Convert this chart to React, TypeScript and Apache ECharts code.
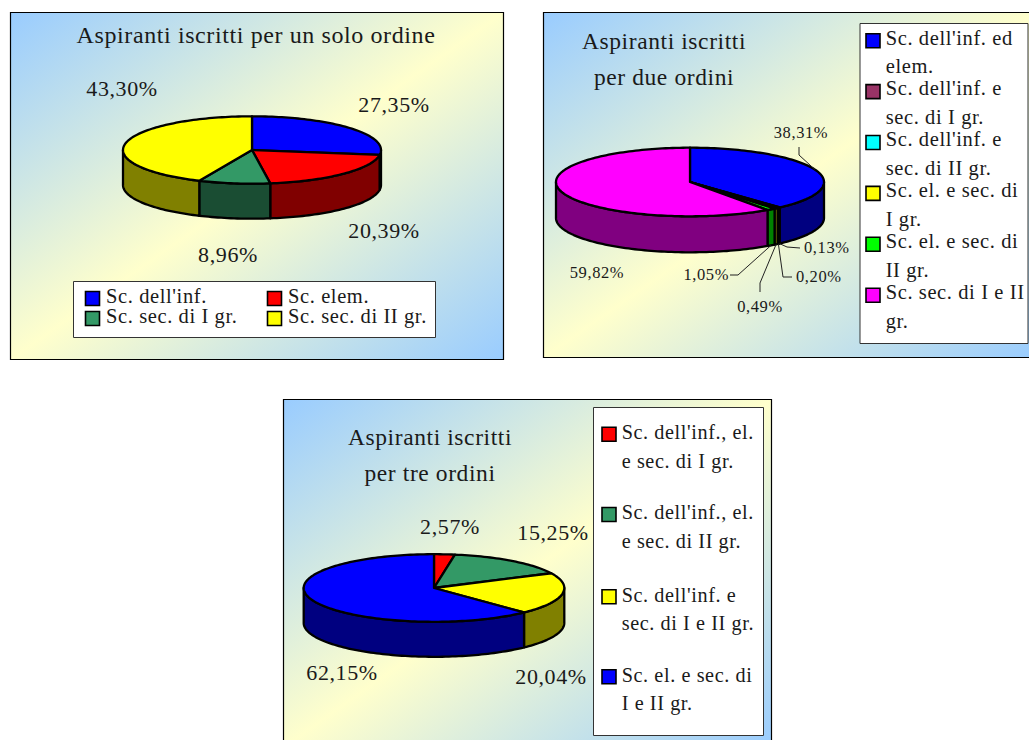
import React, { useEffect, useRef } from "react";
import * as echarts from "echarts";

// Percentages per teaching-order group, clockwise from twelve o'clock
const soloNames = ["Sc. dell'inf.", "Sc. elem.", "Sc. sec. di I gr.", "Sc. sec. di II gr."];
const soloValues = [27.35, 20.39, 8.96, 43.3];

const dueNames = [
  "Sc. dell'inf. ed\nelem.",
  "Sc. dell'inf. e\nsec. di I gr.",
  "Sc. dell'inf. e\nsec. di II gr.",
  "Sc. el. e sec. di\nI gr.",
  "Sc. el. e sec. di\nII gr.",
  "Sc. sec. di I e II\ngr.",
];
const dueValues = [38.31, 0.13, 0.2, 0.49, 1.05, 59.82];

const treNames = [
  "Sc. dell'inf., el.\ne sec. di I gr.",
  "Sc. dell'inf., el.\ne sec. di II gr.",
  "Sc. dell'inf. e\nsec. di I e II gr.",
  "Sc. el. e sec. di\nI e II gr.",
];
const treValues = [2.57, 15.25, 20.04, 62.15];

const FONT = "'Liberation Serif', serif";
const INK = "#1a1a1a";

const BLUE = ["#0000ff", "#000080"];
const RED = ["#ff0000", "#800000"];
const SEA = ["#339966", "#1a4d33"];
const YELLOW = ["#ffff00", "#808000"];
const PLUM = ["#993366", "#4d1a33"];
const CYAN = ["#00ffff", "#008080"];
const LIME = ["#00ff00", "#008000"];
const MAGENTA = ["#ff00ff", "#800080"];

const soloColors = [BLUE, RED, SEA, YELLOW];
const dueColors = [BLUE, PLUM, CYAN, YELLOW, LIME, MAGENTA];
const treColors = [RED, SEA, YELLOW, BLUE];

type Label = { x: number; y: number; align: string; size: number };
type Leader = { rim: "top" | "bottom"; path: number[][] };
type Pie = {
  name: string;
  values: number[];
  colors: string[][];
  cx: number;
  cy: number;
  rx: number;
  ry: number;
  depth: number;
  labels: Label[];
  leaders?: Leader[];
};

const at = (x: number, y: number, size = 22, align = "center"): Label => ({ x, y, align, size });

const pies: Pie[] = [
  {
    name: "Aspiranti iscritti per un solo ordine",
    values: soloValues,
    colors: soloColors,
    cx: 252,
    cy: 150,
    rx: 129,
    ry: 33.7,
    depth: 35,
    labels: [at(394, 104), at(384, 230), at(228, 254), at(122, 88)],
  },
  {
    name: "Aspiranti iscritti per due ordini",
    values: dueValues,
    colors: dueColors,
    cx: 690,
    cy: 182,
    rx: 134,
    ry: 34.3,
    depth: 36,
    labels: [
      at(801, 132, 16.5),
      at(804, 247, 16.5, "left"),
      at(796, 276, 16.5, "left"),
      at(760, 306, 16.5),
      at(729, 274, 16.5, "right"),
      at(597, 272, 16.5),
    ],
    leaders: [
      { rim: "top", path: [[799, 155], [799, 147]] },
      { rim: "bottom", path: [[787, 247], [800, 248]] },
      { rim: "bottom", path: [[783, 277], [792, 277]] },
      { rim: "bottom", path: [[760, 283], [760, 292]] },
      { rim: "bottom", path: [[738, 275], [730, 275]] },
    ],
  },
  {
    name: "Aspiranti iscritti per tre ordini",
    values: treValues,
    colors: treColors,
    cx: 434,
    cy: 588,
    rx: 130.3,
    ry: 33.8,
    depth: 35,
    labels: [at(450, 526), at(553, 532), at(551, 676), at(342, 672)],
  },
];

const fmt = (v: number) => v.toFixed(2).replace(".", ",") + "%";

// Point on the projected rim; the angle runs clockwise from the top of the ellipse
const rim = (p: Pie, deg: number, drop = 0) => {
  const r = (deg * Math.PI) / 180;
  return [p.cx + p.rx * Math.sin(r), p.cy - p.ry * Math.cos(r) + drop];
};

const arc = (p: Pie, a0: number, a1: number, drop = 0) => {
  const pts: number[][] = [];
  const n = Math.max(2, Math.ceil((a1 - a0) / 1.5));
  for (let i = 0; i <= n; i++) pts.push(rim(p, a0 + ((a1 - a0) * i) / n, drop));
  return pts;
};

const pieSeries = (p: Pie) => {
  const total = p.values.reduce((a, b) => a + b, 0);
  return {
    type: "custom",
    name: p.name,
    coordinateSystem: "none",
    silent: true,
    data: p.values.map((v) => [v]),
    renderItem: (params: any, api: any) => {
      const i = params.dataIndex;
      const value = api.value(0);
      const before = p.values.slice(0, i).reduce((a, b) => a + b, 0);
      const a0 = (before / total) * 360;
      const a1 = ((before + value) / total) * 360;
      const mid = (a0 + a1) / 2;
      const children: any[] = [];

      // Only the front half of the drum shows a wall
      const s0 = Math.max(a0, 90);
      const s1 = Math.min(a1, 270);
      if (s1 > s0) {
        children.push({
          type: "polygon",
          z2: 1,
          shape: { points: [...arc(p, s0, s1), ...arc(p, s0, s1, p.depth).reverse()] },
          style: { fill: p.colors[i][1], stroke: "#000", lineWidth: 2.3, lineJoin: "round" },
        });
      }

      children.push({
        type: "polygon",
        z2: 2,
        shape: { points: [[p.cx, p.cy], ...arc(p, a0, a1)] },
        style: { fill: p.colors[i][0], stroke: "#000", lineWidth: 2.3, lineJoin: "round" },
      });

      const leader = p.leaders && p.leaders[i];
      if (leader) {
        const start = rim(p, mid, leader.rim === "bottom" ? p.depth : 0);
        children.push({
          type: "polyline",
          z2: 3,
          shape: { points: [start, ...leader.path] },
          style: { fill: "none", stroke: "#222", lineWidth: 1 },
        });
      }

      const lab = p.labels[i];
      children.push({
        type: "text",
        z2: 4,
        style: {
          text: fmt(value),
          x: lab.x,
          y: lab.y,
          align: lab.align,
          verticalAlign: "middle",
          fontFamily: FONT,
          fontSize: lab.size,
          fill: INK,
        },
      });

      return { type: "group", children };
    },
  };
};

const panel = (x: number, y: number, width: number, height: number) => ({
  type: "rect",
  z: 0,
  shape: { x, y, width, height },
  style: {
    stroke: "#000",
    lineWidth: 1.2,
    fill: {
      type: "linear",
      x: 0,
      y: 0,
      x2: 1,
      y2: 1,
      colorStops: [
        { offset: 0, color: "#99ccff" },
        { offset: 0.5, color: "#ffffcc" },
        { offset: 1, color: "#99ccff" },
      ],
    },
  },
});

const legendBox = (x: number, y: number, width: number, height: number) => ({
  type: "rect",
  z: 1,
  shape: { x, y, width, height },
  style: { fill: "#fff", stroke: "#333", lineWidth: 1 },
});

const swatch = (x: number, cy: number, fill: string) => ({
  type: "rect",
  z: 2,
  shape: { x, y: cy - 7, width: 14, height: 14 },
  style: { fill, stroke: "#000", lineWidth: 1.6 },
});

const legendText = (text: string, x: number, y: number, size: number, lineHeight: number) => ({
  type: "text",
  z: 2,
  style: {
    text,
    x,
    y,
    font: `${size}px ${FONT}`,
    fill: INK,
    lineHeight,
    textLineHeight: lineHeight,
    textVerticalAlign: "top",
  },
});

const titleOf = (text: string, left: number, top: number, size: number) => ({
  text,
  left,
  top,
  textAlign: "center",
  textStyle: {
    fontFamily: FONT,
    fontWeight: "normal",
    fontSize: size,
    lineHeight: 36,
    color: INK,
  },
});

const graphics = () => {
  const out: any[] = [
    panel(10.5, 12.5, 493, 347),
    panel(543.5, 12.5, 494, 345),
    panel(283.5, 399.5, 488, 348),
    legendBox(73.5, 281.5, 362, 56),
    legendBox(860, 23.5, 168, 320),
    legendBox(593.5, 407.5, 170, 328),
  ];

  // Two-column legend under the first drum
  soloNames.forEach((name, i) => {
    const col = i % 2 === 0 ? 85.5 : 267.5;
    const row = i < 2 ? 298.5 : 318.5;
    out.push(swatch(col, row, soloColors[i][0]));
    out.push(legendText(name, col + 20.5, row - 15, 20.5, 24));
  });

  dueNames.forEach((name, i) => {
    const row = 40.7 + i * 50.9;
    out.push(swatch(866, row, dueColors[i][0]));
    out.push(legendText(name, 885.7, row - 17.5, 20.5, 28.6));
  });

  [434.3, 514.5, 596.7, 676.8].forEach((row, i) => {
    out.push(swatch(602, row, treColors[i][0]));
    out.push(legendText(treNames[i], 621.7, row - 16.5, 20.2, 28.6));
  });

  return out;
};

export default function App() {
  const ref = useRef<HTMLDivElement>(null);

  useEffect(() => {
    const chart = echarts.init(ref.current, undefined, { renderer: "svg" });
    chart.setOption({
      animation: false,
      title: [
        titleOf("Aspiranti iscritti per un solo ordine", 251, 12, 24),
        titleOf("Aspiranti iscritti\nper due ordini", 659, 18, 23.5),
        titleOf("Aspiranti iscritti\nper tre ordini", 425, 414, 23.5),
      ],
      graphic: graphics(),
      series: pies.map(pieSeries),
    });
    return () => chart.dispose();
  }, []);

  return (
    <div
      ref={ref}
      style={{
        position: "absolute",
        left: 0,
        top: 0,
        width: 1029,
        height: 740,
        background: "#fff",
        letterSpacing: "0.6px",
      }}
    />
  );
}
